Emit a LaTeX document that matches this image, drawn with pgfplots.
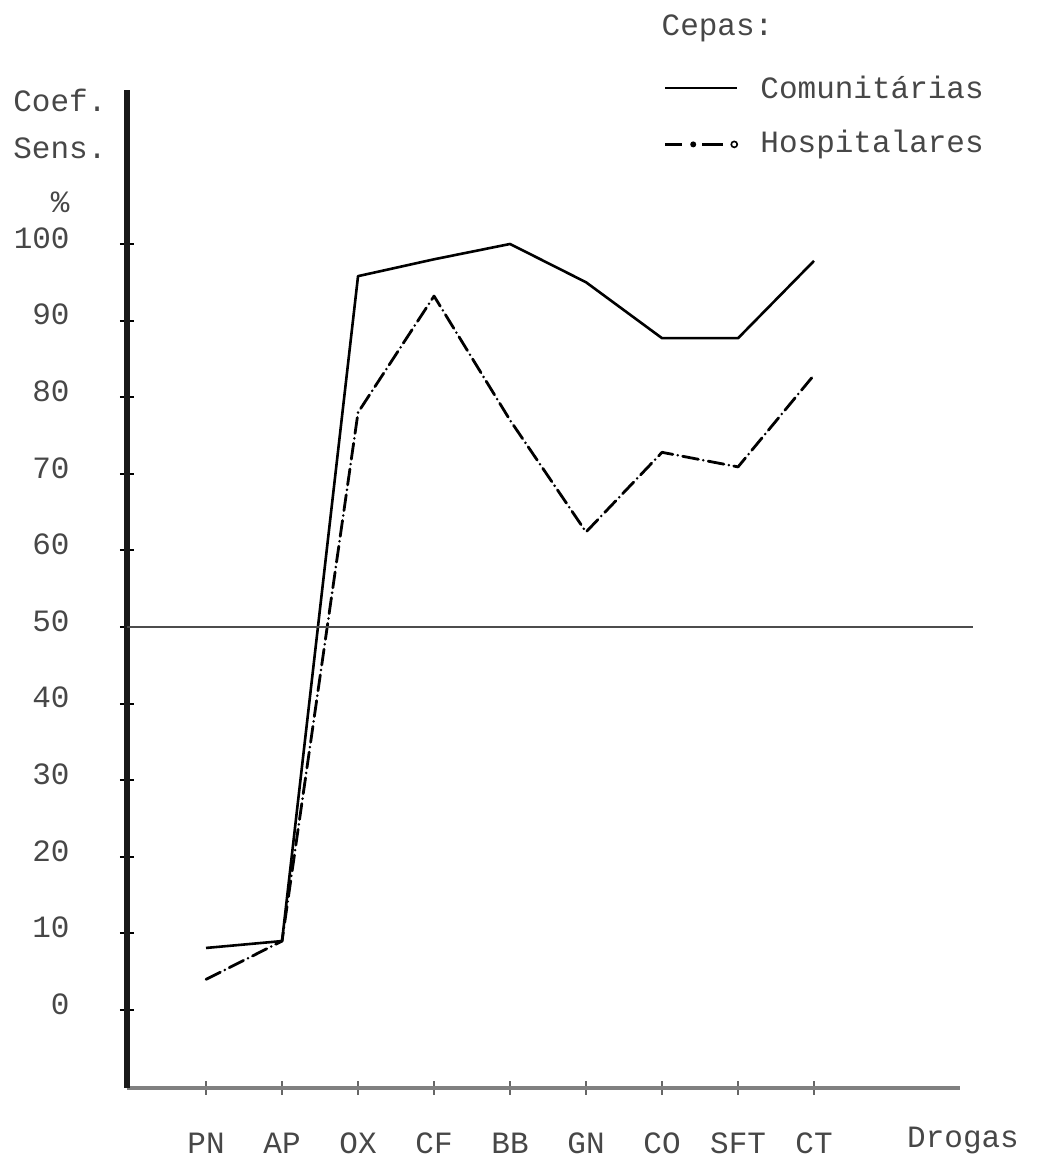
\documentclass[border=0pt]{standalone}
\usepackage{fontspec}
\setmainfont{Liberation Mono}
\usepackage{pgfplots}
\pgfplotsset{compat=1.18}
\definecolor{ink}{gray}{0.28}
\begin{document}
\begin{tikzpicture}
\begin{axis}[
  scale only axis,
  width=416.5pt, height=499pt,
  xmin=-1.04, xmax=9.92, ymin=-10.18, ymax=120.1,
  axis x line*=bottom, axis y line*=left,
  x axis line style={-, line width=2.2pt, black!50},
  y axis line style={-, line width=2.8pt, black!90},
  clip=false,
  xtick={0,...,8},
  xticklabels={PN,AP,OX,CF,BB,GN,CO,SFT,CT},
  ytick={0,10,...,100},
  tick align=center,
  major tick length=7pt,
  xtick style={black!60, line width=0.8pt},
  ytick style={black, line width=1pt},
  ticklabel style={font=\fontsize{15.5}{18}\selectfont, text=ink, inner sep=0pt},
  yticklabel style={anchor=east, xshift=-25pt, yshift=3pt},
  xticklabel style={anchor=center, yshift=-24pt},
  /pgf/number format/assume math mode=true,
]
% Comunitarias
\addplot[black, line width=1.3pt, line join=round] coordinates {
 (0,8.1) (1,9.0) (2,95.8) (3,98.0) (4,100) (5,95.0) (6,87.7) (7,87.7) (8,97.8)};
% Hospitalares
\addplot[black, line width=1.4pt, line cap=round, line join=round,
  dash pattern=on 8pt off 2.5pt on 0pt off 2.5pt] coordinates {
 (0,4.0) (1,9.0) (2,78) (3,93.2) (4,77) (5,62.4) (6,72.8) (7,70.9) (8,82.9)};
% 50% reference line
\addplot[black!70, line width=0.9pt] coordinates {(-1.04,50) (10.09,50)};

\path (axis cs:-2.711,131.85) (axis cs:11.04,-19.45);

\tikzset{lab/.style={font=\fontsize{15.5}{18}\selectfont, text=ink, inner sep=0pt}}
\node[lab, anchor=west] at (axis cs:-2.54,118.8) {Coef.};
\node[lab, anchor=west] at (axis cs:-2.54,112.5) {Sens.};
\node[lab] at (axis cs:-1.92,105.5) {\%};
\node[lab] at (axis cs:9.96,-17.0) {Drogas};

\node[lab, anchor=west] at (axis cs:5.99,128.2) {Cepas:};
\draw[black, line width=1.2pt] (axis cs:6.04,120.4) -- (axis cs:6.99,120.4);
\node[lab, anchor=west] at (axis cs:7.29,120.4) {Comunitárias};
\draw[black, line width=1.2pt] (axis cs:6.04,113.0) -- (axis cs:6.26,113.0);
\fill[black] (axis cs:6.41,113.0) circle (1.5pt);
\draw[black, line width=1.2pt] (axis cs:6.53,113.0) -- (axis cs:6.80,113.0);
\draw[black, line width=0.8pt] (axis cs:6.95,113.0) circle (1.5pt);
\node[lab, anchor=west] at (axis cs:7.29,113.0) {Hospitalares};
\end{axis}
\end{tikzpicture}
\end{document}
